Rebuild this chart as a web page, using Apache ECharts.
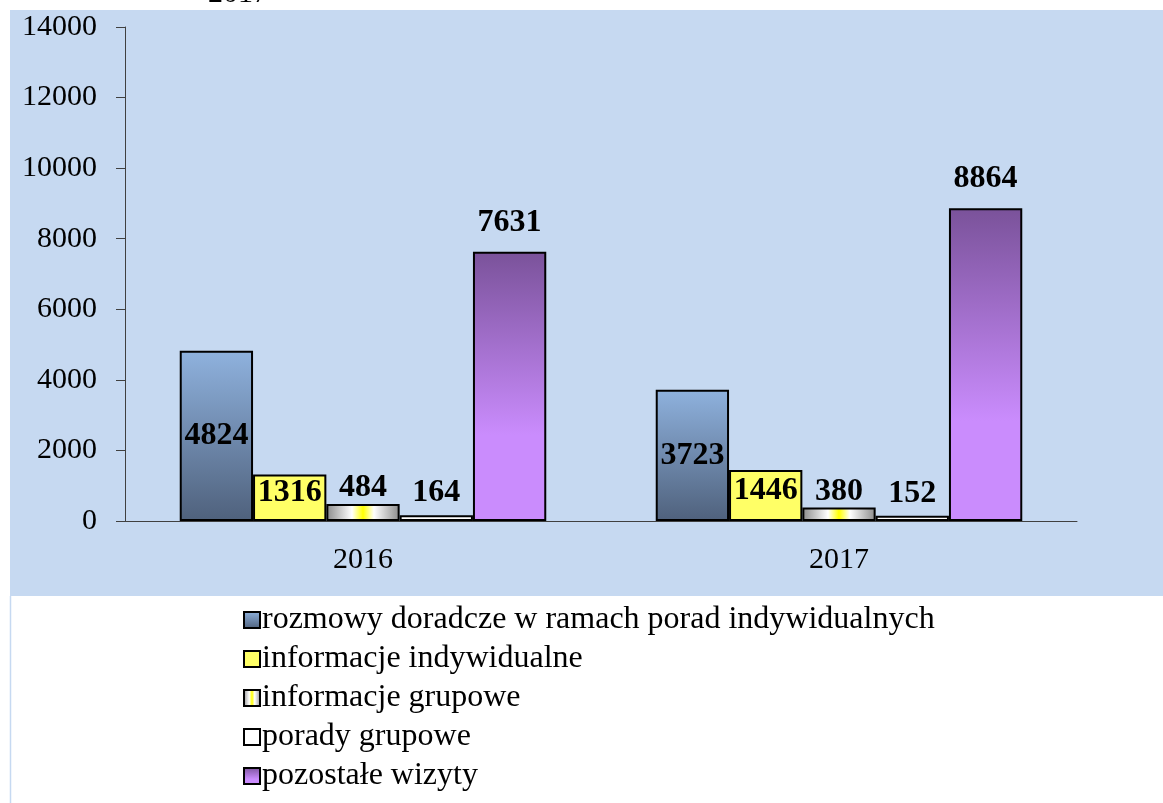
<!DOCTYPE html>
<html>
<head>
<meta charset="utf-8">
<script src="https://cdn.jsdelivr.net/npm/echarts@6/dist/echarts.min.js"></script>
<style>
  html, body { margin: 0; padding: 0; background: #fff; }
  #main { width: 1163px; height: 803px; }
</style>
</head>
<body>
<div id="main"></div>
<script>
var lata = ['2016', '2017'];
var rozmowy = [4824, 3723];
var infoIndyw = [1316, 1446];
var infoGrup = [484, 380];
var poradyGrup = [164, 152];
var pozostale = [7631, 8864];
var nazwy = [
  'rozmowy doradcze w ramach porad indywidualnych',
  'informacje indywidualne',
  'informacje grupowe',
  'porady grupowe',
  'pozostałe wizyty'
];

var myChart = echarts.init(document.getElementById('main'));

var font = '"Liberation Serif", "Times New Roman", serif';

var blueGrad = new echarts.graphic.LinearGradient(0, 0, 0, 1, [
  {offset: 0, color: '#8fb2de'},
  {offset: 1, color: '#4f617c'}
]);
var purpleGrad = new echarts.graphic.LinearGradient(0, 0, 0, 1, [
  {offset: 0, color: '#7a529a'},
  {offset: 0.68, color: '#ca8cfd'},
  {offset: 1, color: '#ca8cfd'}
]);
var grayGrad = new echarts.graphic.LinearGradient(0, 0, 1, 0, [
  {offset: 0, color: '#8a8a8a'},
  {offset: 0.35, color: '#ffffff'},
  {offset: 0.5, color: '#ffff00'},
  {offset: 0.65, color: '#ffffff'},
  {offset: 1, color: '#8a8a8a'}
]);

function labelStyle(pos, dist, off) {
  return {
    show: true,
    position: pos,
    distance: dist,
    offset: off || [0, 0],
    fontFamily: font,
    fontWeight: 'bold',
    fontSize: 32,
    color: '#000'
  };
}

function bar(name, data, fill, pos, dist, off) {
  return {
    name: name,
    type: 'bar',
    data: data,
    barGap: '0%',
    barCategoryGap: '23%',
    itemStyle: {color: fill, borderColor: '#000', borderWidth: 2},
    label: labelStyle(pos, dist, off),
    emphasis: {disabled: true}
  };
}

myChart.setOption({
  animation: false,
  graphic: [
    {type: 'rect', z: -10, shape: {x: 10, y: 10, width: 1153, height: 586}, style: {fill: '#c6d9f1'}},
    {type: 'line', z: -10, shape: {x1: 10.5, y1: 596, x2: 10.5, y2: 803}, style: {stroke: '#c6d9f1', lineWidth: 1.5}},
    {type: 'text', left: 208, top: -21, style: {text: '2017', font: '30px ' + font, fill: '#000'}}
  ],
  grid: {left: 125, right: 86, top: 27, bottom: 282, containLabel: false},
  legend: {
    orient: 'vertical',
    left: 243,
    top: 604,
    padding: 0,
    icon: 'rect',
    itemWidth: 16,
    itemHeight: 16,
    itemGap: 7,
    data: nazwy,
    textStyle: {fontFamily: font, fontSize: 32, lineHeight: 32, color: '#000', padding: [0, 0, 0, -3]},
    itemStyle: {borderColor: '#000', borderWidth: 2}
  },
  xAxis: {
    type: 'category',
    data: lata,
    axisLine: {lineStyle: {color: '#404040', width: 1}},
    axisTick: {show: false},
    axisLabel: {fontFamily: font, fontSize: 30, color: '#000', margin: 24}
  },
  yAxis: {
    type: 'value',
    min: 0,
    max: 14000,
    interval: 2000,
    splitLine: {show: false},
    axisLine: {show: true, lineStyle: {color: '#404040', width: 1}},
    axisTick: {show: true, length: 9, lineStyle: {color: '#404040'}},
    axisLabel: {
      fontFamily: font, fontSize: 30, color: '#000', margin: 28,
      formatter: function (v) { return String(v); }
    }
  },
  series: [
    bar(nazwy[0], rozmowy, blueGrad, 'inside', 5),
    bar(nazwy[1], infoIndyw, '#ffff66', 'inside', 5, [0, -5]),
    bar(nazwy[2], infoGrup, grayGrad, 'top', 0),
    bar(nazwy[3], poradyGrup, '#ffffff', 'top', 6),
    bar(nazwy[4], pozostale, purpleGrad, 'top', 13)
  ]
});
</script>
</body>
</html>
